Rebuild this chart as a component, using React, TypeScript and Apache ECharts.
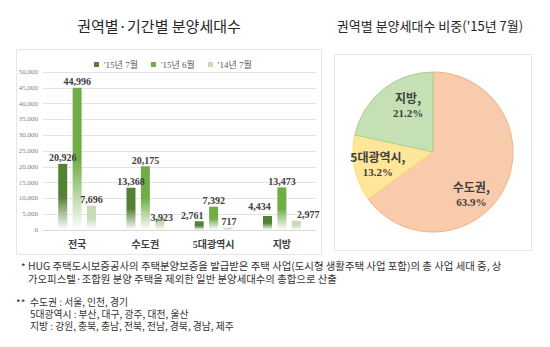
import React, { useEffect, useRef } from "react";
import * as echarts from "echarts";

const categories = ["전국", "수도권", "5대광역시", "지방"];
const seriesNames = ["'15년 7월", "'15년 6월", "'14년 7월"];
const jul15 = [20926, 13368, 2761, 4434];
const jun15 = [44996, 20175, 7392, 13473];
const jul14 = [7696, 3923, 717, 2977];
const yTicks = { min: 0, max: 50000, interval: 5000 };

const pieNames = ["수도권", "5대광역시", "지방"];
const pieValues = [13368, 2761, 4434];
const pieTotal = 20926;

const titleLeft = "권역별·기간별 분양세대수";
const titleRight = "권역별 분양세대수 비중('15년 7월)";
const note1 = [
  "HUG 주택도시보증공사의 주택분양보증을 발급받은 주택 사업(도시형 생활주택 사업 포함)의 총 사업 세대 중, 상",
  "가오피스텔·조합원 분양 주택을 제외한 일반 분양세대수의 총합으로 산출",
];
const note2 = [
  "수도권 : 서울, 인천, 경기",
  "5대광역시 : 부산, 대구, 광주, 대전, 울산",
  "지방 : 강원, 충북, 충남, 전북, 전남, 경북, 경남, 제주",
];

const barColors = ["#548235", "#70ad47", "#c5dcb6"];
const pieColors = ["#f8cbad", "#ffe699", "#c5e0b4"];
const pieBorders = ["#f4b183", "#ffd966", "#a9d18e"];

const SERIF = "'Liberation Serif', 'Noto Sans CJK KR', serif";
const SANS = "'Noto Sans CJK KR', 'Noto Sans', sans-serif";

function grad(c: string) {
  return new echarts.graphic.LinearGradient(0, 0, 0, 1, [
    { offset: 0, color: c },
    { offset: 0.5, color: c },
    { offset: 1, color: "#ffffff" },
  ]);
}

const labelOffsets: Record<string, [number, number]> = {
  "2-1": [2, 6],
  "0-2": [-7, 0],
  "2-2": [1, 0],
  "0-3": [-8, -4],
  "2-3": [12, 0],
};

export default function App() {
  const ref = useRef<HTMLDivElement>(null);
  useEffect(() => {
    if (!ref.current) return;
    const chart = echarts.init(ref.current, undefined, { renderer: "svg" });
    const barData = [jul15, jun15, jul14];
    const pieOffsets: [number, number][] = [[0, 22], [-13, 3], [2, -13]];
    const option: any = {
      animation: false,
      backgroundColor: "#ffffff",
      color: barColors,
      legend: {
        left: 89,
        top: 55,
        itemWidth: 5,
        itemHeight: 5,
        itemGap: 13,
        icon: "rect",
        textStyle: { fontSize: 9, color: "#595959", fontFamily: SERIF },
        data: seriesNames.map((n, i) => ({ name: n, itemStyle: { color: barColors[i] } })),
      },
      grid: { left: 43, right: 234, top: 72, bottom: 117 },
      xAxis: {
        type: "category",
        data: categories,
        axisTick: { show: false },
        axisLine: { lineStyle: { color: "#d9d9d9" } },
        axisLabel: {
          margin: 9,
          fontSize: 10,
          fontWeight: "bold",
          color: "#404040",
          fontFamily: SERIF,
        },
      },
      yAxis: {
        type: "value",
        min: yTicks.min,
        max: yTicks.max,
        interval: yTicks.interval,
        axisLine: { show: false },
        axisTick: { show: false },
        splitLine: { lineStyle: { color: "#e3e3e3" } },
        axisLabel: {
          fontSize: 7,
          color: "#7f7f7f",
          fontFamily: SERIF,
          margin: 5,
          formatter: (v: number) => v.toLocaleString("en-US"),
        },
      },
      series: [
        ...barData.map((arr, si) => ({
          name: seriesNames[si],
          type: "bar",
          barWidth: 9,
          barGap: "60%",
          itemStyle: { color: grad(barColors[si]) },
          label: {
            show: true,
            position: "top",
            distance: 1,
            fontSize: 10,
            fontWeight: "bold",
            color: "#404040",
            fontFamily: SERIF,
            formatter: (p: any) => p.value.toLocaleString("en-US"),
          },
          data: arr.map((v, ci) => {
            const off = labelOffsets[`${si}-${ci}`];
            return off ? { value: v, label: { offset: off } } : v;
          }),
        })),
        {
          type: "pie",
          center: [433, 152],
          radius: 80,
          startAngle: 90,
          clockwise: true,
          legendHoverLink: false,
          label: {
            show: true,
            position: "inside",
            formatter: (p: any) =>
              `{a|${p.name},}\n{b|${((p.value / pieTotal) * 100).toFixed(1)}%}`,
            rich: {
              a: { fontSize: 12, fontWeight: "bold", color: "#404040", fontFamily: SANS, lineHeight: 16 },
              b: { fontSize: 11, fontWeight: "bold", color: "#404040", fontFamily: SERIF, lineHeight: 15 },
            },
          },
          labelLine: { show: false },
          data: pieNames.map((n, i) => ({
            name: n,
            value: pieValues[i],
            itemStyle: { color: pieColors[i], borderColor: pieBorders[i], borderWidth: 1 },
            label: { offset: pieOffsets[i] },
          })),
        },
      ],
      graphic: [
        {
          type: "rect",
          z: -10,
          shape: { x: 16.5, y: 49.5, width: 305, height: 205 },
          style: { fill: "#ffffff", stroke: "#e6e6e6", lineWidth: 1 },
        },
        {
          type: "rect",
          z: -10,
          shape: { x: 334.5, y: 54.5, width: 197, height: 196 },
          style: { fill: "#ffffff", stroke: "#e6e6e6", lineWidth: 1 },
        },
        {
          type: "text",
          x: 159,
          y: 25,
          style: {
            text: titleLeft,
            font: `15px ${SANS}`,
            fill: "#262626",
            textAlign: "center",
            textVerticalAlign: "middle",
          },
        },
        {
          type: "text",
          x: 430,
          y: 25,
          style: {
            text: titleRight,
            font: `13px ${SANS}`,
            fill: "#262626",
            textAlign: "center",
            textVerticalAlign: "middle",
          },
        },
        { type: "text", x: 21, y: 266, style: { text: "*", font: `10px ${SANS}`, fill: "#333", textVerticalAlign: "middle" } },
        { type: "text", x: 16, y: 302, style: { text: "**", font: `10px ${SANS}`, fill: "#333", textVerticalAlign: "middle" } },
        {
          type: "text",
          x: 28,
          y: 259.5,
          style: {
            text: note1.join("\n"),
            font: `10.4px ${SANS}`,
            lineHeight: 12.5,
            fill: "#333",
            textVerticalAlign: "top",
          },
        },
        {
          type: "text",
          x: 30,
          y: 296,
          style: {
            text: note2.join("\n"),
            font: `9.8px ${SANS}`,
            lineHeight: 12,
            fill: "#333",
            textVerticalAlign: "top",
          },
        },
      ],
    };
    chart.setOption(option);
    return () => chart.dispose();
  }, []);
  return (
    <div
      ref={ref}
      style={{ position: "fixed", left: 0, top: 0, width: 550, height: 347 }}
    />
  );
}
